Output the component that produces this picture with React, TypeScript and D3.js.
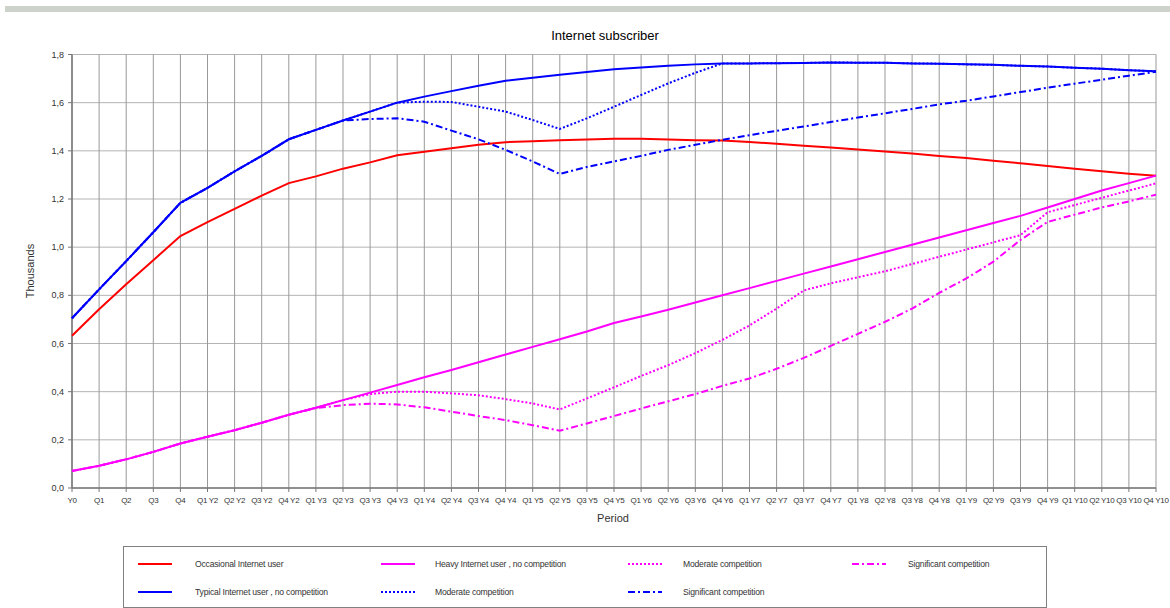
import React from "react";
import * as d3 from "d3";

const periods = [
  "Y0", "Q1", "Q2", "Q3", "Q4",
  "Q1 Y2", "Q2 Y2", "Q3 Y2", "Q4 Y2",
  "Q1 Y3", "Q2 Y3", "Q3 Y3", "Q4 Y3",
  "Q1 Y4", "Q2 Y4", "Q3 Y4", "Q4 Y4",
  "Q1 Y5", "Q2 Y5", "Q3 Y5", "Q4 Y5",
  "Q1 Y6", "Q2 Y6", "Q3 Y6", "Q4 Y6",
  "Q1 Y7", "Q2 Y7", "Q3 Y7", "Q4 Y7",
  "Q1 Y8", "Q2 Y8", "Q3 Y8", "Q4 Y8",
  "Q1 Y9", "Q2 Y9", "Q3 Y9", "Q4 Y9",
  "Q1 Y10", "Q2 Y10", "Q3 Y10", "Q4 Y10",
];

const occasional = [
  0.632, 0.742, 0.846, 0.946, 1.046, 1.104, 1.159, 1.214, 1.266, 1.294, 1.326, 1.352, 1.382,
  1.396, 1.411, 1.425, 1.436, 1.44, 1.444, 1.447, 1.45, 1.45, 1.447, 1.444, 1.443, 1.437,
  1.429, 1.421, 1.414, 1.406, 1.397, 1.389, 1.379, 1.37, 1.359, 1.348, 1.337, 1.326, 1.315,
  1.305, 1.297,
];

const heavy = [
  0.071, 0.092, 0.119, 0.15, 0.185, 0.213, 0.24, 0.271, 0.304, 0.333, 0.365, 0.396, 0.428,
  0.46, 0.49, 0.522, 0.554, 0.586, 0.618, 0.65, 0.685, 0.712, 0.74, 0.77, 0.8, 0.83, 0.86,
  0.89, 0.92, 0.95, 0.98, 1.01, 1.04, 1.07, 1.1, 1.13, 1.165, 1.2, 1.235, 1.266, 1.297,
];

const heavyModerate = [
  0.071, 0.092, 0.119, 0.15, 0.185, 0.213, 0.24, 0.271, 0.304, 0.333, 0.365, 0.39, 0.4,
  0.4, 0.393, 0.385, 0.369, 0.351, 0.326, 0.372, 0.418, 0.465, 0.51, 0.56, 0.615, 0.675,
  0.745, 0.82, 0.85, 0.875, 0.9, 0.93, 0.96, 0.99, 1.02, 1.05, 1.145, 1.175, 1.205, 1.235,
  1.265,
];

const heavySignificant = [
  0.071, 0.092, 0.119, 0.15, 0.185, 0.213, 0.24, 0.271, 0.304, 0.332, 0.344, 0.35, 0.347,
  0.335, 0.317, 0.299, 0.282, 0.261, 0.238, 0.268, 0.299, 0.33, 0.36, 0.39, 0.424, 0.455,
  0.495, 0.54, 0.59, 0.64, 0.69, 0.745, 0.81, 0.87, 0.94, 1.03, 1.105, 1.135, 1.165, 1.19,
  1.218,
];

const typical = [
  0.705, 0.825, 0.942, 1.062, 1.184, 1.246, 1.315, 1.379, 1.448, 1.487, 1.526, 1.563, 1.6,
  1.625, 1.648, 1.67, 1.691, 1.703, 1.716, 1.727, 1.739, 1.746, 1.753, 1.759, 1.763, 1.763,
  1.764, 1.765, 1.767, 1.766, 1.766, 1.763, 1.762, 1.759, 1.757, 1.753, 1.75, 1.745, 1.741,
  1.735, 1.73,
];

const typicalModerate = [
  0.705, 0.825, 0.942, 1.062, 1.184, 1.246, 1.315, 1.379, 1.448, 1.487, 1.526, 1.563, 1.6,
  1.604, 1.603, 1.583, 1.563, 1.528, 1.491, 1.535, 1.583, 1.632, 1.68, 1.724, 1.763, 1.763,
  1.764, 1.765, 1.767, 1.766, 1.766, 1.763, 1.762, 1.759, 1.757, 1.753, 1.75, 1.745, 1.741,
  1.735, 1.73,
];

const typicalSignificant = [
  0.705, 0.825, 0.942, 1.062, 1.184, 1.246, 1.315, 1.379, 1.448, 1.487, 1.526, 1.532, 1.535,
  1.521, 1.484, 1.448, 1.404, 1.356, 1.304, 1.333, 1.356, 1.379, 1.404, 1.425, 1.446, 1.465,
  1.483, 1.501, 1.52, 1.538, 1.556, 1.574, 1.593, 1.608, 1.626, 1.644, 1.662, 1.679, 1.695,
  1.712, 1.728,
];

const yTicks = [0, 0.2, 0.4, 0.6, 0.8, 1.0, 1.2, 1.4, 1.6, 1.8];

const RED = "#ff0000";
const BLUE = "#0000ff";
const MAGENTA = "#ff00ff";
const DOTTED = "2,2";
const DASHDOT = "7,3,2,3";

const series = [
  { name: "Occasional Internet user", values: occasional, color: RED, dash: null },
  { name: "Heavy Internet user , no competition", values: heavy, color: MAGENTA, dash: null },
  { name: "Moderate competition", values: heavyModerate, color: MAGENTA, dash: DOTTED },
  { name: "Significant competition", values: heavySignificant, color: MAGENTA, dash: DASHDOT },
  { name: "Typical Internet user , no competition", values: typical, color: BLUE, dash: null },
  { name: "Moderate competition", values: typicalModerate, color: BLUE, dash: DOTTED },
  { name: "Significant competition", values: typicalSignificant, color: BLUE, dash: DASHDOT },
];

// legend layout: [seriesIndex, column, row]
const legendItems = [
  [0, 0, 0],
  [1, 1, 0],
  [2, 2, 0],
  [3, 3, 0],
  [4, 0, 1],
  [5, 1, 1],
  [6, 2, 1],
];

export default function App() {
  const W = 1170;
  const H = 608;
  const left = 72;
  const right = 1156;
  const top = 54.5;
  const bottom = 488;

  const x = d3
    .scalePoint<string>()
    .domain(periods)
    .range([left, right]);
  const y = d3.scaleLinear().domain([0, 1.8]).range([bottom, top]);

  const line = d3
    .line<number>()
    .x((_, i) => x(periods[i]) as number)
    .y((d) => y(d));

  const fmt = (v: number) => d3.format(".1f")(v).replace(".", ",");
  const font = "'Liberation Sans', Arial, sans-serif";

  const legendColX = [138, 381, 628, 852];
  const legendTextOff = [57, 54, 55, 56];
  const legendRowY = [564, 592];

  return (
    <svg
      width={W}
      height={H}
      style={{ position: "fixed", left: 0, top: 0, background: "#fff" }}
      fontFamily={font}
    >
      <rect x={0} y={0} width={W} height={H} fill="#fff" />
      <rect x={5} y={6} width={W - 5} height={6} fill="#cdd3cb" />

      <text x={605} y={40} textAnchor="middle" fontSize={13} fill="#000">
        Internet subscriber
      </text>

      {/* horizontal grid */}
      {yTicks.map((t) => (
        <line
          key={"h" + t}
          x1={left}
          x2={right}
          y1={y(t)}
          y2={y(t)}
          stroke="#b4b4b4"
          strokeWidth={1}
        />
      ))}
      {/* vertical grid */}
      {periods.map((p) => (
        <line
          key={"v" + p}
          x1={x(p)}
          x2={x(p)}
          y1={top}
          y2={bottom}
          stroke="#999"
          strokeWidth={1}
        />
      ))}

      {/* axes */}
      <line x1={left} x2={left} y1={top} y2={bottom} stroke="#777" strokeWidth={1.5} />
      <line x1={left} x2={right} y1={bottom} y2={bottom} stroke="#777" strokeWidth={1.5} />
      {yTicks.map((t) => (
        <g key={"yt" + t}>
          <line x1={left - 4} x2={left} y1={y(t)} y2={y(t)} stroke="#777" />
          <text x={left - 8} y={y(t) + 3} textAnchor="end" fontSize={9} fill="#333">
            {fmt(t)}
          </text>
        </g>
      ))}
      {periods.map((p) => (
        <g key={"xt" + p}>
          <line x1={x(p)} x2={x(p)} y1={bottom} y2={bottom + 4} stroke="#777" />
          <text
            x={x(p)}
            y={bottom + 15}
            textAnchor="middle"
            fontSize={8}
            letterSpacing={-0.3}
            fill="#333"
          >
            {p}
          </text>
        </g>
      ))}

      <text
        transform={`translate(34, 271) rotate(-90)`}
        textAnchor="middle"
        fontSize={11}
        fill="#333"
      >
        Thousands
      </text>
      <text x={613} y={522} textAnchor="middle" fontSize={11} fill="#333">
        Period
      </text>

      {/* series */}
      {series.map((s, i) => (
        <path
          key={"s" + i}
          d={line(s.values) || ""}
          fill="none"
          stroke={s.color}
          strokeWidth={2}
          strokeDasharray={s.dash || undefined}
        />
      ))}

      {/* legend */}
      <rect x={123.5} y={546.5} width={923} height={61} fill="#fff" stroke="#808080" strokeWidth={1} />
      {legendItems.map(([si, col, row]) => {
        const s = series[si];
        const lx = legendColX[col];
        const ly = legendRowY[row];
        return (
          <g key={"lg" + si}>
            <line
              x1={lx}
              x2={lx + 34}
              y1={ly}
              y2={ly}
              stroke={s.color}
              strokeWidth={2}
              strokeDasharray={s.dash || undefined}
            />
            <text
              x={lx + legendTextOff[col]}
              y={ly + 3}
              fontSize={8.6}
              letterSpacing={-0.2}
              fill="#333"
            >
              {s.name}
            </text>
          </g>
        );
      })}
    </svg>
  );
}
